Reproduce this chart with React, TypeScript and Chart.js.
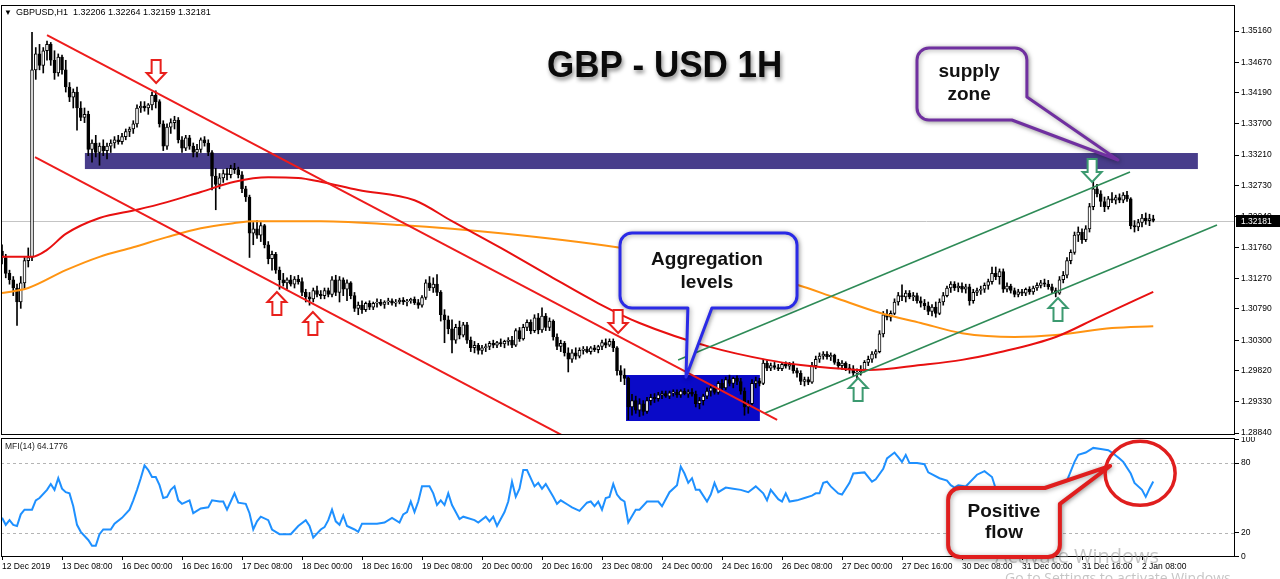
import React, { useEffect, useRef } from "react";
import { Chart, registerables } from "chart.js";

Chart.register(...registerables);

const FONT = '"Liberation Sans", Arial, sans-serif';

// ---------- data ----------
const timeLabels = [
  "12 Dec 2019", "13 Dec 08:00", "16 Dec 00:00", "16 Dec 16:00", "17 Dec 08:00",
  "18 Dec 00:00", "18 Dec 16:00", "19 Dec 08:00", "20 Dec 00:00", "20 Dec 16:00",
  "23 Dec 08:00", "24 Dec 00:00", "24 Dec 16:00", "26 Dec 08:00", "27 Dec 00:00",
  "27 Dec 16:00", "30 Dec 08:00", "31 Dec 00:00", "31 Dec 16:00", "2 Jan 08:00",
];
const timeTickIndex = [0, 16, 32, 48, 64, 80, 96, 112, 128, 144, 160, 176, 192, 208, 224, 240, 256, 272, 288, 304];

const priceTicks = [1.3516, 1.3467, 1.3419, 1.337, 1.3321, 1.3273, 1.3224, 1.3176, 1.3127, 1.3079, 1.303, 1.2982, 1.2933, 1.2884];
const mfiTicks = [0, 20, 80, 100];
const mfiLevels = [20, 80];

const symbolHeader = "GBPUSD,H1  1.32206 1.32264 1.32159 1.32181";
const mfiHeader = "MFI(14) 64.1776";
const chartTitle = "GBP - USD 1H";
const lastClose = 1.32181;

const opens = [
  1.3170,1.3160,1.3135,1.3125,1.3112,1.3090,1.3120,1.3155,1.3160,1.3455,
  1.3480,1.3462,1.3485,1.3495,1.3470,1.3450,1.3475,1.3455,1.3428,1.3412,
  1.3420,1.3395,1.3380,1.3385,1.3330,1.3340,1.3325,1.3335,1.3328,1.3335,
  1.3340,1.3345,1.3342,1.3350,1.3358,1.3362,1.3370,1.3395,1.3398,1.3395,
  1.3400,1.3415,1.3405,1.3370,1.3335,1.3365,1.3372,1.3376,1.3345,1.3332,
  1.3348,1.3335,1.3325,1.3330,1.3345,1.3340,1.3325,1.3288,1.3275,1.3285,
  1.3292,1.3290,1.3300,1.3298,1.3290,1.3268,1.3255,1.3198,1.3205,1.3195,
  1.3210,1.3180,1.3158,1.3165,1.3140,1.3125,1.3120,1.3125,1.3118,1.3126,
  1.3122,1.3105,1.3098,1.3095,1.3108,1.3102,1.3100,1.3108,1.3102,1.3125,
  1.3105,1.3125,1.3110,1.3120,1.3100,1.3080,1.3085,1.3078,1.3088,1.3082,
  1.3088,1.3090,1.3086,1.3090,1.3092,1.3088,1.3090,1.3093,1.3090,1.3092,
  1.3094,1.3089,1.3085,1.3097,1.3120,1.3112,1.3118,1.3105,1.3070,1.3062,
  1.3048,1.3030,1.3050,1.3038,1.3054,1.3030,1.3018,1.3022,1.3014,1.3018,
  1.3020,1.3025,1.3022,1.3026,1.3024,1.3028,1.3030,1.3022,1.3045,1.3032,
  1.3050,1.3058,1.3045,1.3065,1.3046,1.3068,1.3050,1.3060,1.3035,1.3020,
  1.3025,1.3010,1.3000,1.3010,1.3005,1.3014,1.3016,1.3012,1.3018,1.3015,
  1.3020,1.3026,1.3022,1.3028,1.3018,1.2982,1.2975,1.2970,1.2925,1.2935,
  1.2920,1.2930,1.2918,1.2935,1.2940,1.2938,1.2944,1.2946,1.2942,1.2947,
  1.2948,1.2944,1.2950,1.2946,1.2948,1.2945,1.2930,1.2935,1.2942,1.2950,
  1.2955,1.2948,1.2962,1.2955,1.2968,1.2962,1.2970,1.2965,1.2950,1.2925,
  1.2930,1.2962,1.2966,1.2962,1.2994,1.2986,1.2990,1.2987,1.2985,1.2992,
  1.2989,1.2992,1.2982,1.2978,1.2965,1.2968,1.2964,1.2990,1.3000,1.3005,
  1.3008,1.3004,1.3006,1.2995,1.2990,1.2994,1.2986,1.2985,1.2978,1.2980,
  1.2984,1.2995,1.3000,1.3008,1.3012,1.3040,1.3070,1.3066,1.3072,1.3090,
  1.3100,1.3098,1.3104,1.3098,1.3100,1.3092,1.3088,1.3084,1.3075,1.3082,
  1.3072,1.3090,1.3100,1.3112,1.3118,1.3112,1.3115,1.3110,1.3114,1.3092,
  1.3105,1.3108,1.3110,1.3116,1.3122,1.3135,1.3130,1.3138,1.3110,1.3115,
  1.3108,1.3102,1.3106,1.3104,1.3110,1.3106,1.3112,1.3116,1.3120,1.3118,
  1.3114,1.3108,1.3104,1.3125,1.3132,1.3155,1.3168,1.3195,1.3200,1.3188,
  1.3205,1.3240,1.3268,1.3260,1.3248,1.3240,1.3252,1.3250,1.3254,1.3250,
  1.3258,1.3252,1.3210,1.3208,1.3215,1.3222,1.3218,1.32206,
];
const highs = [
  1.3180,1.3165,1.3140,1.3130,1.3118,1.3130,1.3160,1.3175,1.3514,1.3490,
  1.3495,1.3490,1.3500,1.3498,1.3485,1.3480,1.3478,1.3470,1.3435,1.3425,
  1.3428,1.3405,1.3395,1.3390,1.3345,1.3352,1.3340,1.3345,1.3340,1.3345,
  1.3350,1.3352,1.3355,1.3362,1.3365,1.3375,1.3400,1.3405,1.3405,1.3402,
  1.3420,1.3422,1.3408,1.3375,1.3370,1.3378,1.3382,1.3380,1.3350,1.3352,
  1.3352,1.3340,1.3338,1.3348,1.3350,1.3345,1.3328,1.3300,1.3292,1.3298,
  1.3300,1.3305,1.3308,1.3302,1.3295,1.3272,1.3258,1.3215,1.3218,1.3215,
  1.3212,1.3185,1.3170,1.3168,1.3145,1.3135,1.3128,1.3132,1.3130,1.3132,
  1.3128,1.3110,1.3105,1.3112,1.3115,1.3108,1.3112,1.3112,1.3130,1.3132,
  1.3130,1.3128,1.3125,1.3122,1.3105,1.3090,1.3092,1.3090,1.3092,1.3090,
  1.3095,1.3094,1.3092,1.3096,1.3095,1.3094,1.3096,1.3097,1.3094,1.3096,
  1.3098,1.3094,1.3100,1.3125,1.3130,1.3128,1.3133,1.3108,1.3078,1.3068,
  1.3062,1.3055,1.3060,1.3058,1.3058,1.3035,1.3028,1.3025,1.3022,1.3024,
  1.3028,1.3030,1.3028,1.3032,1.3030,1.3034,1.3036,1.3048,1.3050,1.3055,
  1.3062,1.3062,1.3070,1.3072,1.3081,1.3072,1.3065,1.3062,1.3040,1.3030,
  1.3028,1.3018,1.3015,1.3018,1.3018,1.3020,1.3020,1.3020,1.3022,1.3022,
  1.3030,1.3032,1.3032,1.3032,1.3020,1.2990,1.2985,1.2972,1.2945,1.2942,
  1.2938,1.2935,1.2940,1.2945,1.2946,1.2948,1.2950,1.2950,1.2950,1.2952,
  1.2952,1.2952,1.2954,1.2952,1.2954,1.2950,1.2940,1.2945,1.2955,1.2960,
  1.2958,1.2965,1.2968,1.2972,1.2975,1.2972,1.2974,1.2970,1.2955,1.2935,
  1.2968,1.2972,1.2970,1.3000,1.2998,1.2994,1.2995,1.2992,1.2995,1.2996,
  1.2995,1.2996,1.2986,1.2982,1.2972,1.2972,1.2995,1.3005,1.3010,1.3012,
  1.3012,1.3010,1.3008,1.3000,1.2998,1.2996,1.2992,1.2990,1.2985,1.2990,
  1.2998,1.3005,1.3012,1.3015,1.3045,1.3075,1.3078,1.3076,1.3095,1.3105,
  1.3117,1.3108,1.3108,1.3105,1.3104,1.3098,1.3094,1.3090,1.3086,1.3090,
  1.3095,1.3105,1.3115,1.3122,1.3122,1.3120,1.3120,1.3118,1.3118,1.3110,
  1.3112,1.3115,1.3120,1.3126,1.3145,1.3145,1.3142,1.3142,1.3120,1.3118,
  1.3112,1.3110,1.3110,1.3112,1.3114,1.3115,1.3120,1.3124,1.3126,1.3124,
  1.3118,1.3112,1.3130,1.3138,1.3160,1.3172,1.3200,1.3208,1.3205,1.3210,
  1.3245,1.3282,1.3275,1.3265,1.3255,1.3256,1.3262,1.3258,1.3260,1.3262,
  1.3264,1.3254,1.3218,1.3220,1.3228,1.3230,1.3228,1.32264,
];
const lows = [
  1.3150,1.3128,1.3118,1.3100,1.3053,1.3080,1.3110,1.3145,1.3155,1.3440,
  1.3455,1.3450,1.3470,1.3462,1.3440,1.3445,1.3448,1.3420,1.3405,1.3395,
  1.3360,1.3375,1.3372,1.3320,1.3310,1.3318,1.3305,1.3320,1.3315,1.3325,
  1.3332,1.3338,1.3338,1.3345,1.3350,1.3355,1.3365,1.3388,1.3390,1.3385,
  1.3392,1.3395,1.3365,1.3328,1.3330,1.3355,1.3362,1.3340,1.3325,1.3328,
  1.3330,1.3318,1.3318,1.3325,1.3335,1.3320,1.3266,1.3235,1.3268,1.3278,
  1.3282,1.3285,1.3292,1.3285,1.3262,1.3248,1.3160,1.3180,1.3190,1.3185,
  1.3175,1.3150,1.3140,1.3135,1.3110,1.3115,1.3110,1.3115,1.3112,1.3118,
  1.3100,1.3090,1.3085,1.3090,1.3098,1.3095,1.3095,1.3098,1.3098,1.3100,
  1.3090,1.3100,1.3092,1.3095,1.3075,1.3070,1.3072,1.3075,1.3078,1.3078,
  1.3082,1.3084,1.3080,1.3086,1.3085,1.3083,1.3087,1.3086,1.3084,1.3088,
  1.3086,1.3080,1.3082,1.3094,1.3108,1.3105,1.3100,1.3060,1.3026,1.3040,
  1.3010,1.3025,1.3032,1.3035,1.3025,1.3012,1.3010,1.3008,1.3008,1.3012,
  1.3015,1.3018,1.3018,1.3020,1.3018,1.3022,1.3018,1.3020,1.3028,1.3030,
  1.3045,1.3040,1.3042,1.3040,1.3042,1.3045,1.3045,1.3030,1.3015,1.3012,
  1.3005,1.2980,1.2995,1.3000,1.3002,1.3008,1.3010,1.3008,1.3012,1.3010,
  1.3015,1.3018,1.3020,1.3012,1.2975,1.2965,1.2960,1.2905,1.2912,1.2915,
  1.2910,1.2912,1.2915,1.2928,1.2932,1.2934,1.2938,1.2940,1.2938,1.2942,
  1.2940,1.2940,1.2944,1.2940,1.2942,1.2925,1.2922,1.2928,1.2938,1.2942,
  1.2945,1.2945,1.2950,1.2952,1.2958,1.2955,1.2960,1.2945,1.2912,1.2915,
  1.2928,1.2955,1.2958,1.2960,1.2982,1.2982,1.2984,1.2982,1.2982,1.2986,
  1.2984,1.2978,1.2972,1.2960,1.2958,1.2960,1.2962,1.2985,1.2995,1.3000,
  1.3000,1.2998,1.2992,1.2985,1.2984,1.2982,1.2978,1.2974,1.2970,1.2975,
  1.2980,1.2990,1.2995,1.3002,1.3010,1.3035,1.3062,1.3060,1.3070,1.3085,
  1.3092,1.3090,1.3095,1.3092,1.3088,1.3082,1.3078,1.3070,1.3068,1.3066,
  1.3070,1.3085,1.3098,1.3105,1.3108,1.3106,1.3105,1.3104,1.3085,1.3088,
  1.3100,1.3102,1.3105,1.3110,1.3118,1.3125,1.3118,1.3105,1.3106,1.3104,
  1.3098,1.3098,1.3100,1.3100,1.3102,1.3102,1.3108,1.3112,1.3114,1.3110,
  1.3104,1.3098,1.3102,1.3120,1.3128,1.3150,1.3165,1.3185,1.3182,1.3185,
  1.3200,1.3235,1.3255,1.3240,1.3232,1.3236,1.3246,1.3244,1.3246,1.3246,
  1.3248,1.3205,1.3200,1.3202,1.3208,1.3212,1.3210,1.32159,
];
const closes = [
  1.3160,1.3135,1.3125,1.3112,1.3090,1.3120,1.3155,1.3160,1.3455,1.3480,
  1.3462,1.3485,1.3495,1.3470,1.3450,1.3475,1.3455,1.3428,1.3412,1.3420,
  1.3395,1.3380,1.3385,1.3330,1.3340,1.3325,1.3335,1.3328,1.3335,1.3340,
  1.3345,1.3342,1.3350,1.3358,1.3362,1.3370,1.3395,1.3398,1.3395,1.3400,
  1.3415,1.3405,1.3370,1.3335,1.3365,1.3372,1.3376,1.3345,1.3332,1.3348,
  1.3335,1.3325,1.3330,1.3345,1.3340,1.3325,1.3288,1.3275,1.3285,1.3292,
  1.3290,1.3300,1.3298,1.3290,1.3268,1.3255,1.3198,1.3205,1.3195,1.3210,
  1.3180,1.3158,1.3165,1.3140,1.3125,1.3120,1.3125,1.3118,1.3126,1.3122,
  1.3105,1.3098,1.3095,1.3108,1.3102,1.3100,1.3108,1.3102,1.3125,1.3105,
  1.3125,1.3110,1.3120,1.3100,1.3080,1.3085,1.3078,1.3088,1.3082,1.3088,
  1.3090,1.3086,1.3090,1.3092,1.3088,1.3090,1.3093,1.3090,1.3092,1.3094,
  1.3089,1.3085,1.3097,1.3120,1.3112,1.3118,1.3105,1.3070,1.3062,1.3048,
  1.3030,1.3050,1.3038,1.3054,1.3030,1.3018,1.3022,1.3014,1.3018,1.3020,
  1.3025,1.3022,1.3026,1.3024,1.3028,1.3030,1.3022,1.3045,1.3032,1.3050,
  1.3058,1.3045,1.3065,1.3046,1.3068,1.3050,1.3060,1.3035,1.3020,1.3025,
  1.3010,1.3000,1.3010,1.3005,1.3014,1.3016,1.3012,1.3018,1.3015,1.3020,
  1.3026,1.3022,1.3028,1.3018,1.2982,1.2975,1.2970,1.2925,1.2935,1.2920,
  1.2930,1.2918,1.2935,1.2940,1.2938,1.2944,1.2946,1.2942,1.2947,1.2948,
  1.2944,1.2950,1.2946,1.2948,1.2945,1.2930,1.2935,1.2942,1.2950,1.2955,
  1.2948,1.2962,1.2955,1.2968,1.2962,1.2970,1.2965,1.2950,1.2925,1.2930,
  1.2962,1.2966,1.2962,1.2994,1.2986,1.2990,1.2987,1.2985,1.2992,1.2989,
  1.2992,1.2982,1.2978,1.2965,1.2968,1.2964,1.2990,1.3000,1.3005,1.3008,
  1.3004,1.3006,1.2995,1.2990,1.2994,1.2986,1.2985,1.2978,1.2980,1.2984,
  1.2995,1.3000,1.3008,1.3012,1.3040,1.3070,1.3066,1.3072,1.3090,1.3100,
  1.3098,1.3104,1.3098,1.3100,1.3092,1.3088,1.3084,1.3075,1.3082,1.3072,
  1.3090,1.3100,1.3112,1.3118,1.3112,1.3115,1.3110,1.3114,1.3092,1.3105,
  1.3108,1.3110,1.3116,1.3122,1.3135,1.3130,1.3138,1.3110,1.3115,1.3108,
  1.3102,1.3106,1.3104,1.3110,1.3106,1.3112,1.3116,1.3120,1.3118,1.3114,
  1.3108,1.3104,1.3125,1.3132,1.3155,1.3168,1.3195,1.3200,1.3188,1.3205,
  1.3240,1.3268,1.3260,1.3248,1.3240,1.3252,1.3250,1.3254,1.3250,1.3258,
  1.3252,1.3210,1.3208,1.3215,1.3222,1.3218,1.3221,1.32181,
];

// moving averages (bar index, value)
const redMaIndex = [0, 8, 12, 17, 26, 36, 44, 53, 62, 71, 79, 85, 95, 110, 120, 133, 146, 159, 170, 189, 204, 213, 224, 231, 245, 256, 266, 281, 292, 307];
const redMaValues = [1.3161, 1.3161, 1.3172, 1.3197, 1.3222, 1.3235, 1.3247, 1.3263, 1.3279, 1.3286, 1.3285, 1.3279, 1.3266, 1.325, 1.3217, 1.3175, 1.3131, 1.3088, 1.3057, 1.3019, 1.2999, 1.2991, 1.2985, 1.2983, 1.2991, 1.2999, 1.3011, 1.3035, 1.3065, 1.3106];
const orangeMaIndex = [0, 7, 17, 26, 35, 44, 53, 62, 67, 85, 106, 133, 164, 186, 212, 222, 234, 245, 256, 270, 281, 296, 307];
const orangeMaValues = [1.3104, 1.3112, 1.314, 1.3161, 1.3176, 1.3192, 1.3206, 1.3214, 1.3217, 1.3217, 1.3211, 1.3198, 1.3176, 1.3153, 1.3117, 1.3097, 1.3073, 1.3057, 1.3041, 1.3035, 1.3038, 1.3049, 1.3052];

// trend lines (bar index, price)
const redUpperLineIndex = [12, 206.7];
const redUpperLinePrice = [1.35097, 1.29045];
const redLowerLineIndex = [8.8, 159.5];
const redLowerLinePrice = [1.33179, 1.2849];
const greenUpperLineIndex = [180.3, 300.8];
const greenUpperLinePrice = [1.29988, 1.32943];
const greenLowerLineIndex = [203.5, 324];
const greenLowerLinePrice = [1.29155, 1.3211];

// zones (bar index, price)
const supplyZoneIndex = [22.1, 318.9];
const supplyZonePrice = [1.33242, 1.3299];
const aggregationZoneIndex = [166.4, 202.1];
const aggregationZonePrice = [1.29752, 1.29029];

// MFI(14) (bar index, value)
const mfiIndex = [
  0,1,2,3,4,5,6,8,9,10,
  12,13,14,15,16,17,18,19,20,21,
  23,24,25,26,27,28,29,30,32,34,
  35,36,37,38,39,40,41,42,43,44,
  45,46,47,48,50,51,53,55,56,58,
  59,60,61,62,63,65,66,67,68,69,
  71,72,74,75,77,79,81,82,83,85,
  86,87,88,89,90,91,92,94,95,96,
  98,100,102,104,106,107,108,109,110,111,
  112,114,115,116,117,118,119,120,121,122,
  123,126,127,129,130,131,132,134,135,136,
  137,138,139,140,142,143,144,145,147,148,
  149,151,152,154,156,157,158,159,160,161,
  162,163,164,165,166,167,169,170,172,175,
  176,178,180,181,182,183,184,185,186,188,
  189,190,191,193,195,197,199,201,203,204,
  205,207,208,209,210,212,214,216,217,218,
  219,220,221,223,224,226,227,230,232,233,
  235,236,238,239,240,241,242,244,246,247,
  250,252,253,254,255,257,260,262,264,265,
  268,272,276,280,282,284,286,287,289,291,
  293,295,296,298,299,301,302,304,305,306,
  307,
];
const mfiValues = [
  33,27,31,27,26,36,40,40,48,50,
  57,62,57,67,58,55,54,43,27,21,
  14,9,9,19,23,23,23,28,33,40,
  48,57,67,78,74,68,68,61,50,51,
  57,60,48,45,48,37,41,42,48,47,
  47,40,47,54,46,45,37,23,30,34,
  31,23,19,19,19,26,31,26,16,23,
  25,31,40,30,27,35,26,23,21,28,
  28,28,29,33,29,36,38,47,38,47,
  60,60,54,44,48,44,54,44,38,32,
  34,31,29,34,30,34,26,38,47,64,
  51,58,74,74,60,63,58,62,51,45,
  48,44,42,39,46,47,43,47,40,50,
  51,62,53,49,47,29,40,40,47,47,
  43,55,61,77,71,63,67,57,57,47,
  53,63,55,59,58,57,55,60,54,48,
  57,49,47,54,47,48,50,52,54,54,
  63,64,60,54,53,63,71,72,64,66,
  75,84,89,85,81,87,80,80,79,72,
  67,65,61,59,61,60,70,73,68,58,
  55,52,55,58,60,65,81,87,89,93,
  92,91,89,84,81,71,63,57,51,58,
  64.18,
];

// ---------- annotation layout (data-space anchors) ----------
const X_MIN = -0.27;
const X_MAX = 328.8;
const RED = "#ee1c1c";
const ARROW_RED = "#e8201c";
const ARROW_GREEN = "#3c9a70";

const arrowMarks = [
  { i: 41.1, v: 1.34343, dir: "down", color: ARROW_RED },
  { i: 164.3, v: 1.30413, dir: "down", color: ARROW_RED },
  { i: 73.3, v: 1.31057, dir: "up", color: ARROW_RED },
  { i: 82.9, v: 1.30743, dir: "up", color: ARROW_RED },
  { i: 290.7, v: 1.32786, dir: "down", color: ARROW_GREEN },
  { i: 228.3, v: 1.29705, dir: "up", color: ARROW_GREEN },
  { i: 281.6, v: 1.30963, dir: "up", color: ARROW_GREEN },
];

const aggregationCallout = {
  stroke: "#2a2ae6",
  width: 3,
  shape: [
    { i: 164.8, v: 1.31985, r: 12 }, { i: 212, v: 1.31985, r: 12 }, { i: 212, v: 1.30806, r: 12 },
    { i: 189.3, v: 1.30806, r: 0 }, { i: 182.4, v: 1.29721, r: 0 }, { i: 182.9, v: 1.30806, r: 0 },
    { i: 164.8, v: 1.30806, r: 12 },
  ],
  lines: [{ t: "Aggregation", i: 188, v: 1.3156 }, { t: "levels", i: 188, v: 1.31199 }],
};
const supplyCallout = {
  stroke: "#7030a0",
  width: 3,
  shape: [
    { i: 244, v: 1.34893, r: 12 }, { i: 273.3, v: 1.34893, r: 12 }, { i: 273.3, v: 1.34122, r: 0 },
    { i: 297.6, v: 1.33132, r: 0 }, { i: 269.3, v: 1.33761, r: 0 }, { i: 244, v: 1.33761, r: 12 },
  ],
  lines: [{ t: "supply", i: 257.9, v: 1.34515 }, { t: "zone", i: 257.9, v: 1.34154 }],
};
const flowCallout = {
  stroke: "#e01e1e",
  width: 4,
  shape: [
    { i: 252.3, v: 58.6, r: 12 }, { i: 278.1, v: 58.6, r: 0 }, { i: 295.5, v: 77.5, r: 0 },
    { i: 282.1, v: 44.9, r: 0 }, { i: 282.1, v: -0.6, r: 12 }, { i: 252.3, v: -0.6, r: 12 },
  ],
  lines: [{ t: "Positive", i: 267.2, v: 38 }, { t: "flow", i: 267.2, v: 20 }],
};
const flowCircle = { i: 303.5, v: 71.2, rx: 35, ry: 32 };
const titleAnchor = { i: 176.7, v: 1.3460 };

// ---------- drawing helpers ----------
function roundedPoly(ctx: any, pts: any[]) {
  const n = pts.length;
  const a = pts[n - 1], b = pts[0];
  ctx.beginPath();
  ctx.moveTo((a.x + b.x) / 2, (a.y + b.y) / 2);
  for (let k = 0; k < n; k++) {
    const p = pts[k], q = pts[(k + 1) % n];
    ctx.arcTo(p.x, p.y, q.x, q.y, p.r);
  }
  ctx.closePath();
}

function drawCallout(chart: any, c: any) {
  const { ctx, scales } = chart;
  const pts = c.shape.map((s: any) => ({ x: scales.x.getPixelForValue(s.i), y: scales.y.getPixelForValue(s.v), r: s.r }));
  ctx.save();
  ctx.shadowColor = "rgba(0,0,0,0.35)";
  ctx.shadowBlur = 5;
  ctx.shadowOffsetX = 1;
  ctx.shadowOffsetY = 1;
  roundedPoly(ctx, pts);
  ctx.fillStyle = "#ffffff";
  ctx.fill();
  ctx.lineJoin = "round";
  ctx.lineWidth = c.width;
  ctx.strokeStyle = c.stroke;
  ctx.stroke();
  ctx.shadowColor = "transparent";
  ctx.fillStyle = "#111111";
  ctx.font = `bold 19px ${FONT}`;
  ctx.textAlign = "center";
  ctx.textBaseline = "middle";
  c.lines.forEach((l: any) => {
    ctx.fillText(l.t, scales.x.getPixelForValue(l.i), scales.y.getPixelForValue(l.v));
  });
  ctx.restore();
}

function drawArrow(ctx: any, x: number, y: number, dir: string, color: string) {
  const hw = 9.5, sw = 4.5, hh = 10, h = 23;
  const k = dir === "down" ? -1 : 1;
  ctx.save();
  ctx.beginPath();
  ctx.moveTo(x, y);
  ctx.lineTo(x + hw, y + k * hh);
  ctx.lineTo(x + sw, y + k * hh);
  ctx.lineTo(x + sw, y + k * h);
  ctx.lineTo(x - sw, y + k * h);
  ctx.lineTo(x - sw, y + k * hh);
  ctx.lineTo(x - hw, y + k * hh);
  ctx.closePath();
  ctx.fillStyle = "#ffffff";
  ctx.fill();
  ctx.lineWidth = 2;
  ctx.lineJoin = "miter";
  ctx.strokeStyle = color;
  ctx.stroke();
  ctx.restore();
}

function fixAxisSize(prop: "width" | "height", size: number) {
  return (s: any) => {
    s[prop] = size;
    s.paddingTop = 0;
    s.paddingBottom = 0;
    s.paddingLeft = 0;
    s.paddingRight = 0;
  };
}

const mainDecor = {
  id: "mainDecor",
  beforeDatasetsDraw(chart: any) {
    const { ctx, chartArea: a, scales: { x, y } } = chart;
    ctx.save();
    ctx.beginPath();
    ctx.rect(a.left, a.top, a.right - a.left, a.bottom - a.top);
    ctx.clip();
    const zone = (idx: number[], pr: number[], color: string) => {
      const x0 = x.getPixelForValue(idx[0]), x1 = x.getPixelForValue(idx[1]);
      const y0 = y.getPixelForValue(pr[0]), y1 = y.getPixelForValue(pr[1]);
      ctx.fillStyle = color;
      ctx.fillRect(x0, y0, x1 - x0, y1 - y0);
    };
    zone(supplyZoneIndex, supplyZonePrice, "#483d8b");
    zone(aggregationZoneIndex, aggregationZonePrice, "#0a0ac8");
    const yl = Math.round(y.getPixelForValue(lastClose)) + 0.5;
    ctx.strokeStyle = "#c4c4c4";
    ctx.lineWidth = 1;
    ctx.beginPath();
    ctx.moveTo(a.left, yl);
    ctx.lineTo(a.right, yl);
    ctx.stroke();
    ctx.restore();
  },
  afterDraw(chart: any) {
    const { ctx, chartArea: a, scales: { x, y } } = chart;
    ctx.save();
    ctx.strokeStyle = "#000";
    ctx.lineWidth = 1;
    ctx.strokeRect(Math.round(a.left) + 0.5, Math.round(a.top) + 0.5, Math.round(a.right - a.left) - 1, Math.round(a.bottom - a.top) - 1);
    arrowMarks.forEach((m) => drawArrow(ctx, x.getPixelForValue(m.i), y.getPixelForValue(m.v), m.dir, m.color));
    drawCallout(chart, aggregationCallout);
    drawCallout(chart, supplyCallout);
    // title
    ctx.save();
    ctx.font = `bold 35px ${FONT}`;
    ctx.textAlign = "center";
    ctx.textBaseline = "middle";
    ctx.shadowColor = "rgba(0,0,0,0.45)";
    ctx.shadowBlur = 4;
    ctx.shadowOffsetX = 1.5;
    ctx.shadowOffsetY = 2.5;
    ctx.fillStyle = "#0a0a0a";
    const tx = x.getPixelForValue(titleAnchor.i), ty = y.getPixelForValue(titleAnchor.v);
    ctx.translate(tx, ty);
    ctx.scale(1, 1.08);
    ctx.fillText(chartTitle, 0, 0);
    ctx.restore();
    // header
    ctx.fillStyle = "#000";
    ctx.font = `8px ${FONT}`;
    ctx.textBaseline = "middle";
    ctx.textAlign = "left";
    ctx.fillText("\u25BC", a.left + 3, a.top + 8);
    ctx.font = `9px ${FONT}`;
    ctx.fillText(symbolHeader, a.left + 15, a.top + 8);
    // current price label
    const yl = Math.round(y.getPixelForValue(lastClose));
    ctx.fillStyle = "#000";
    ctx.fillRect(a.right + 1, yl - 6, 44, 12);
    ctx.fillStyle = "#fff";
    ctx.font = `8.5px ${FONT}`;
    ctx.fillText(lastClose.toFixed(5), a.right + 6, yl + 0.5);
    ctx.restore();
  },
};

const mfiDecor = {
  id: "mfiDecor",
  beforeDatasetsDraw(chart: any) {
    const { ctx, chartArea: a, scales: { y } } = chart;
    ctx.save();
    ctx.strokeStyle = "#b4b4b4";
    ctx.lineWidth = 1;
    ctx.setLineDash([3, 3]);
    mfiLevels.forEach((lv) => {
      const yy = Math.round(y.getPixelForValue(lv)) + 0.5;
      ctx.beginPath();
      ctx.moveTo(a.left, yy);
      ctx.lineTo(a.right, yy);
      ctx.stroke();
    });
    ctx.restore();
  },
  afterDraw(chart: any) {
    const { ctx, chartArea: a, scales: { x, y } } = chart;
    ctx.save();
    ctx.strokeStyle = "#000";
    ctx.lineWidth = 1;
    ctx.strokeRect(Math.round(a.left) + 0.5, Math.round(a.top) + 0.5, Math.round(a.right - a.left) - 1, Math.round(a.bottom - a.top) - 1);
    ctx.fillStyle = "#222";
    ctx.font = `8.5px ${FONT}`;
    ctx.textAlign = "left";
    ctx.textBaseline = "middle";
    ctx.fillText(mfiHeader, a.left + 4, a.top + 9);
    // system watermark
    ctx.fillStyle = "rgba(150,150,150,0.55)";
    ctx.font = `20px "Open Sans", ${FONT}`;
    ctx.textBaseline = "alphabetic";
    ctx.fillText("Activate Windows", a.right - 240, a.bottom + 6);
    ctx.font = `14px "Open Sans", ${FONT}`;
    ctx.fillText("Go to Settings to activate Windows.", a.right - 230, a.bottom + 26);
    drawCallout(chart, flowCallout);
    ctx.strokeStyle = "#e01e1e";
    ctx.lineWidth = 3.5;
    ctx.beginPath();
    ctx.ellipse(x.getPixelForValue(flowCircle.i), y.getPixelForValue(flowCircle.v), flowCircle.rx, flowCircle.ry, 0, 0, Math.PI * 2);
    ctx.stroke();
    ctx.restore();
  },
};

const seg = (idx: number[], vals: number[]) => idx.map((v, k) => ({ x: v, y: vals[k] }));

export default function App() {
  const mainRef = useRef<HTMLCanvasElement>(null);
  const mfiRef = useRef<HTMLCanvasElement>(null);

  useEffect(() => {
    Chart.defaults.font.family = FONT;
    Chart.defaults.color = "#000";

    const bodyData = closes.map((c, i) => ({ x: i, y: [opens[i], c] }));
    const bodyColors = closes.map((c, i) => (c >= opens[i] ? "#ffffff" : "#000000"));
    const wickData = highs.map((h, i) => ({ x: i, y: [lows[i], h] }));

    const lineDs = (label: string, data: any[], color: string, order: number, width = 2, smooth = false) => ({
      type: "line",
      label,
      data,
      borderColor: color,
      borderWidth: width,
      pointRadius: 0,
      fill: false,
      order,
      clip: 0,
      tension: smooth ? 0.4 : 0,
      cubicInterpolationMode: smooth ? "monotone" : "default",
    });

    const main = new Chart(mainRef.current as HTMLCanvasElement, {
      type: "bar",
      data: {
        datasets: [
          lineDs("Channel upper", seg(redUpperLineIndex, redUpperLinePrice), RED, 1),
          lineDs("Channel lower", seg(redLowerLineIndex, redLowerLinePrice), RED, 1),
          lineDs("Green upper", seg(greenUpperLineIndex, greenUpperLinePrice), "#2e8b57", 1, 1.6),
          lineDs("Green lower", seg(greenLowerLineIndex, greenLowerLinePrice), "#2e8b57", 1, 1.6),
          lineDs("MA red", seg(redMaIndex, redMaValues), "#e81010", 2, 2, true),
          lineDs("MA orange", seg(orangeMaIndex, orangeMaValues), "#ff9412", 2, 2, true),
          {
            type: "bar",
            label: "Body",
            data: bodyData,
            backgroundColor: bodyColors,
            borderColor: "#000000",
            borderWidth: 1,
            borderSkipped: false,
            barThickness: 3,
            minBarLength: 1,
            grouped: false,
            order: 8,
            clip: 0,
          },
          {
            type: "bar",
            label: "Wick",
            data: wickData,
            backgroundColor: "#000000",
            borderWidth: 0,
            barThickness: 1,
            grouped: false,
            order: 9,
            clip: 0,
          },
        ] as any,
      },
      options: {
        animation: false,
        responsive: false,
        events: [],
        layout: { padding: { top: 5, left: 1, right: 0, bottom: 2 } },
        plugins: { legend: { display: false }, tooltip: { enabled: false }, title: { display: false } },
        scales: {
          x: { type: "linear", min: X_MIN, max: X_MAX, offset: false, display: false },
          y: {
            type: "linear",
            position: "right",
            min: 1.28809,
            max: 1.35569,
            afterBuildTicks: (s: any) => { s.ticks = priceTicks.map((v) => ({ value: v })); },
            afterFit: fixAxisSize("width", 45),
            ticks: { font: { size: 8.5, family: FONT }, color: "#000", padding: 2, callback: (v: any) => Number(v).toFixed(5) },
            grid: { drawOnChartArea: false, tickLength: 4, color: "#000" },
            border: { display: false },
          },
        },
      } as any,
      plugins: [mainDecor],
    });

    const mfi = new Chart(mfiRef.current as HTMLCanvasElement, {
      type: "line",
      data: {
        datasets: [
          {
            label: "MFI(14)",
            data: seg(mfiIndex, mfiValues),
            borderColor: "#1e90ff",
            borderWidth: 2,
            pointRadius: 0,
            tension: 0,
            fill: false,
            clip: 0,
          },
        ] as any,
      },
      options: {
        animation: false,
        responsive: false,
        events: [],
        layout: { padding: { top: 1, left: 1, right: 0, bottom: 0 } },
        plugins: { legend: { display: false }, tooltip: { enabled: false }, title: { display: false } },
        scales: {
          x: {
            type: "linear",
            min: X_MIN,
            max: X_MAX,
            offset: false,
            afterBuildTicks: (s: any) => { s.ticks = timeTickIndex.map((v) => ({ value: v })); },
            afterFit: fixAxisSize("height", 22),
            ticks: {
              autoSkip: false,
              maxRotation: 0,
              minRotation: 0,
              align: "start",
              padding: 2,
              font: { size: 8.5, family: FONT },
              color: "#000",
              callback: (_v: any, idx: number) => timeLabels[idx],
            },
            grid: { drawOnChartArea: false, tickLength: 3, color: "#000", offset: false },
            border: { display: false },
          },
          y: {
            type: "linear",
            position: "right",
            min: -0.6,
            max: 101.5,
            afterBuildTicks: (s: any) => { s.ticks = mfiTicks.map((v) => ({ value: v })); },
            afterFit: fixAxisSize("width", 45),
            ticks: { font: { size: 8.5, family: FONT }, color: "#000", padding: 2, callback: (v: any) => String(v) },
            grid: { drawOnChartArea: false, tickLength: 4, color: "#000" },
            border: { display: false },
          },
        },
      } as any,
      plugins: [mfiDecor],
    });

    return () => {
      main.destroy();
      mfi.destroy();
    };
  }, []);

  return (
    <div style={{ position: "absolute", left: 0, top: 0, width: 1280, height: 579, background: "#ffffff", overflow: "hidden" }}>
      <canvas ref={mainRef} width={1280} height={437} style={{ position: "absolute", left: 0, top: 0, width: 1280, height: 437 }} />
      <canvas ref={mfiRef} width={1280} height={142} style={{ position: "absolute", left: 0, top: 437, width: 1280, height: 142 }} />
    </div>
  );
}
